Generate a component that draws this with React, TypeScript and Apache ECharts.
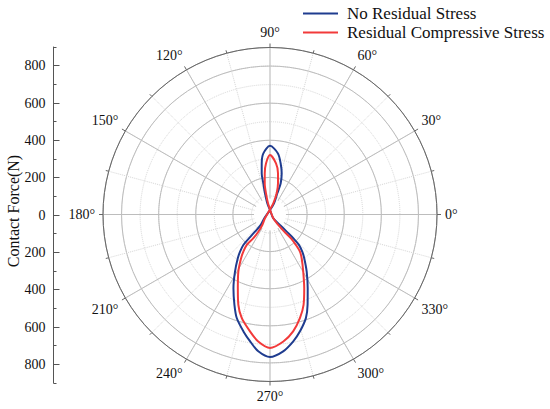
import React, { useEffect, useRef } from "react";
import * as echarts from "echarts";

// Curve traces: angle (degrees) and contact force (N), in path order
const blueAngle = [90, 70.3, 71, 71.1, 74.1, 78.2, 82.6, 90, 96.2, 99.2, 101.4, 102.1, 103.3, 103.6, 90,
  311, 313.6, 314.2, 314.4, 313.6, 311, 308.1, 302.7, 297.1, 292.6, 289.1, 284.4, 280.4, 275.5, 270,
  265.1, 261.1, 257.2, 252.2, 248.5, 243.6, 238.5, 233.6, 231.1, 228.8, 228.6, 228.9, 228.5, 213.7, 90];
const blueForce = [24, 64, 121, 177, 230, 281, 332, 370, 331, 279, 226, 172, 117, 62, 24,
  27, 78, 129, 179, 226, 265, 299, 366, 446, 527, 591, 650, 695, 741, 768,
  740, 692, 646, 586, 523, 443, 361, 292, 257, 218, 170, 123, 75, 37, 24];

const redAngle = [90, 73.6, 72.5, 75.6, 79, 83.3, 90, 94.5, 97.3, 99.6, 100.7, 100.1, 90,
  311, 308.3, 309.7, 311.4, 310.4, 308.9, 305.9, 300.2, 294.9, 290.4, 286.1, 281.2, 276, 270,
  264.7, 260.3, 254.7, 250.7, 246.4, 241, 236.5, 234.3, 232.6, 234.9, 235.8, 233.7, 217.2, 90];
const redForce = [27, 63, 120, 173, 226, 277, 320, 276, 223, 170, 116, 61, 27,
  27, 72, 120, 171, 215, 257, 291, 356, 438, 519, 581, 642, 688, 719,
  687, 639, 578, 516, 433, 352, 282, 246, 206, 156, 112, 70, 34, 27];

const seriesNames = ["No Residual Stress", "Residual Compressive Stress"];
const axisTitle = "Contact Force(N)";

const FONT = "'Liberation Serif', 'Times New Roman', serif";

export default function App() {
  const ref = useRef<HTMLDivElement>(null);
  useEffect(() => {
    if (!ref.current) return;
    const chart = echarts.init(ref.current, undefined, { renderer: "svg" });
    const cx = 270, cy = 214.5, R = 167;
    chart.setOption({
      animation: false,
      backgroundColor: "#fff",
      legend: {
        orient: "vertical",
        left: 298,
        top: 0,
        icon: "rect",
        itemWidth: 35,
        itemHeight: 2,
        itemGap: 2,
        textStyle: { fontFamily: FONT, fontSize: 17, color: "#111", padding: [0, 0, 0, 4] },
        data: seriesNames,
      },
      polar: [
        { center: [cx, cy], radius: R },
        { center: [cx, cy], radius: R },
      ],
      angleAxis: [
        {
          polarIndex: 0, type: "value", min: 0, max: 360, interval: 15, startAngle: 0, clockwise: false,
          axisLine: { show: false }, axisTick: { show: false }, axisLabel: { show: false },
          splitLine: { show: true, lineStyle: { color: "#d6d6d6", type: "dotted", width: 1 } },
        },
        {
          polarIndex: 1, type: "value", min: 0, max: 360, interval: 30, startAngle: 0, clockwise: false,
          axisLine: { show: true, lineStyle: { color: "#666", width: 1 } },
          axisTick: { show: true, length: 4, lineStyle: { color: "#666" } },
          minorTick: { show: true, splitNumber: 2, length: 3, lineStyle: { color: "#666" } },
          axisLabel: {
            show: true, margin: 8, fontFamily: FONT, fontSize: 14, color: "#111",
            formatter: (v: number) => (v >= 360 ? "" : v + "°"),
          },
          splitLine: { show: true, lineStyle: { color: "#bdbdbd", width: 1 } },
        },
      ],
      radiusAxis: [
        {
          polarIndex: 0, type: "value", min: 0, max: 900, interval: 100,
          axisLine: { show: false }, axisTick: { show: false }, axisLabel: { show: false },
          splitLine: { show: true, lineStyle: { color: "#d6d6d6", type: "dotted", width: 1 } },
        },
        {
          polarIndex: 1, type: "value", min: 0, max: 900, interval: 200,
          axisLine: { show: false }, axisTick: { show: false }, axisLabel: { show: false },
          splitLine: { show: true, lineStyle: { color: "#bdbdbd", width: 1 } },
        },
      ],
      grid: [
        { left: 53.5, top: 47, width: 10, height: 336 },
        { left: 53.5, top: 47 + 336 / 18, width: 10, height: 336 * 16 / 18 },
      ],
      xAxis: [
        { gridIndex: 0, type: "value", show: false },
        { gridIndex: 1, type: "value", show: false },
      ],
      yAxis: [
        {
          gridIndex: 0, type: "value", min: -900, max: 900, interval: 100, position: "left",
          axisLine: { show: true, lineStyle: { color: "#555", width: 1 } },
          axisTick: { show: true, inside: true, length: 3, lineStyle: { color: "#555" } },
          axisLabel: { show: false }, splitLine: { show: false },
        },
        {
          gridIndex: 1, type: "value", min: -800, max: 800, interval: 200, position: "left",
          axisLine: { show: false },
          axisTick: { show: true, inside: true, length: 6, lineStyle: { color: "#555" } },
          axisLabel: {
            show: true, margin: 8, fontFamily: FONT, fontSize: 14, color: "#111",
            formatter: (v: number) => String(Math.abs(v)),
          },
          splitLine: { show: false },
        },
      ],
      graphic: [
        { type: "circle", shape: { cx, cy, r: 16 }, style: { fill: "#fff" }, z: 1, silent: true },
        {
          type: "text", x: 13.5, y: 211, rotation: Math.PI / 2, z: 5,
          style: { text: axisTitle, fontFamily: FONT, fontSize: 16, fill: "#111", align: "center", verticalAlign: "middle" },
        },
      ],
      series: [
        {
          name: seriesNames[0], type: "line", coordinateSystem: "polar", polarIndex: 1,
          data: blueAngle.map((a, i) => [blueForce[i], a]),
          symbol: "none", smooth: 0.3, z: 5,
          lineStyle: { color: "#1f3c8f", width: 2 }, itemStyle: { color: "#1f3c8f" },
        },
        {
          name: seriesNames[1], type: "line", coordinateSystem: "polar", polarIndex: 1,
          data: redAngle.map((a, i) => [redForce[i], a]),
          symbol: "none", smooth: 0.3, z: 6,
          lineStyle: { color: "#f23a3a", width: 2 }, itemStyle: { color: "#f23a3a" },
        },
      ],
    });
    return () => chart.dispose();
  }, []);
  return <div ref={ref} style={{ position: "absolute", left: 0, top: 0, width: 550, height: 409 }} />;
}
